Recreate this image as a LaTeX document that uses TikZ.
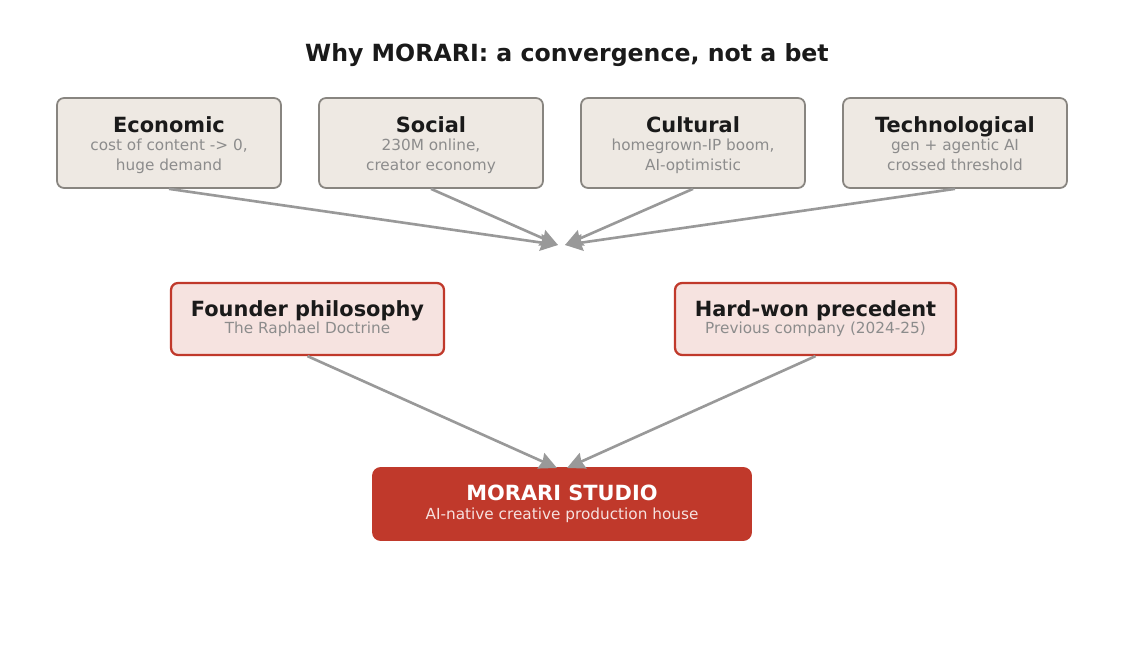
\documentclass[tikz,border=0pt]{standalone}
\usepackage{fontspec}
\setmainfont{DejaVu Sans}
\usepackage{xcolor}
\usepackage{tikz}
\usetikzlibrary{arrows.meta, positioning}
\definecolor{ink}{HTML}{1A1A1A}
\definecolor{muted}{HTML}{8C8C8C}
\definecolor{sand}{HTML}{EEE9E3}
\definecolor{edge}{HTML}{888580}
\definecolor{brick}{HTML}{C0392B}
\definecolor{blush}{HTML}{F6E3E0}
\definecolor{flow}{HTML}{999999}
\colorlet{pale}{white!85!brick}
\newcommand{\headline}[1]{\rule{0pt}{11.2pt}#1}
\newcommand{\subline}[2][muted]{{\fontsize{8.7}{11.3}\selectfont\mdseries\color{#1}#2\vphantom{g}}}

\begin{document}
\begin{tikzpicture}[
  x=0.02cm, y=-0.02cm,
  force/.style={draw=edge, fill=sand, line width=1pt, rounded corners=4pt,
                minimum width=4.48cm, minimum height=1.8cm, align=center,
                text=ink, font=\fontsize{11.9}{11.3}\selectfont\bfseries},
  root/.style={draw=brick, fill=blush, line width=1.3pt, rounded corners=4pt,
               minimum height=1.44cm, align=center, text=ink,
               font=\fontsize{11.9}{11.3}\selectfont\bfseries},
  studio/.style={fill=brick, rounded corners=5pt, minimum width=7.6cm,
                 minimum height=1.48cm, align=center, text=white,
                 font=\fontsize{11.9}{11.3}\selectfont\bfseries},
  arr/.style={-{Stealth[length=10pt, width=9.5pt, inset=1pt]}, color=flow, line width=1.5pt}
]
  \useasboundingbox (0,0) rectangle (1134,658);

  % Title
  \node[font=\fontsize{13.45}{15}\selectfont\bfseries, text=ink] (title) at (567,55)
    {Why MORARI: a convergence, not a bet};

  % Forces
  \node[force] (economic) at (169,143)
    {\headline{Economic}\\[-1.1pt]\subline{cost of content -> 0,}\\\subline{huge demand}};
  \node[force] (social) at (431,143)
    {\headline{Social}\\[-1.1pt]\subline{230M online,}\\\subline{creator economy}};
  \node[force] (cultural) at (693,143)
    {\headline{Cultural}\\[-1.1pt]\subline{homegrown-IP boom,}\\\subline{AI-optimistic}};
  \node[force] (technological) at (955,143)
    {\headline{Technological}\\[-1.1pt]\subline{gen + agentic AI}\\\subline{crossed threshold}};

  % Roots
  \node[root, minimum width=5.46cm] (founder) at (307.5,319)
    {Founder philosophy\\[-1.7pt]\subline{The Raphael Doctrine}};
  \node[root, minimum width=5.62cm] (precedent) at (815.5,319)
    {Hard-won precedent\\[-1.7pt]\subline{Previous company (2024-25)}};

  % Result
  \node[studio] (morari) at (562,504)
    {MORARI STUDIO\\[-0.5pt]\subline[pale]{AI-native creative production house}};

  % Meeting points
  \coordinate (meetL) at (558,245);
  \coordinate (meetR) at (565,245);
  \coordinate (landL) at (557,468);
  \coordinate (landR) at (567,468);

  % Arrows
  \draw[arr] (economic.south) -- (meetL);
  \draw[arr] (social.south) -- (meetL);
  \draw[arr] (cultural.south) -- (meetR);
  \draw[arr] (technological.south) -- (meetR);

  \draw[arr] (founder.south) -- (landL);
  \draw[arr] (precedent.south) -- (landR);
\end{tikzpicture}
\end{document}
